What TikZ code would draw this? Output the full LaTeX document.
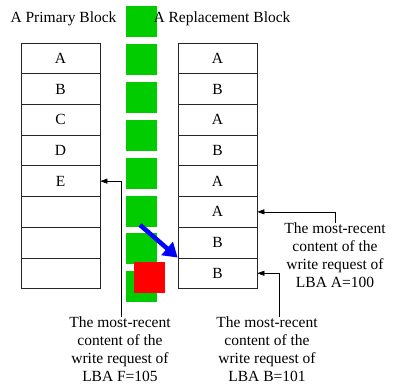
\documentclass[tikz,border=0pt]{standalone}
\usepackage{fontspec}
\setmainfont{Liberation Serif}
\newfontfamily\tnr{Liberation Serif}
\usetikzlibrary{arrows.meta}
\definecolor{grn}{RGB}{0,204,0}
\definecolor{blu}{RGB}{0,0,255}
\begin{document}
\begin{tikzpicture}[x=1pt,y=-1pt,
  txt/.style={font=\tnr\fontsize{15.5}{18}\selectfont},
  cell/.style={draw=black!85,line width=0.7pt,minimum width=79pt,minimum height=30.7pt,inner sep=0pt,txt},
  gsq/.style={fill=grn,draw=none},
  note/.style={txt,align=center,inner sep=0pt,anchor=north},
  conn/.style={draw=black,line width=0.6pt,-{Triangle[length=7pt,width=5pt]}}]
\useasboundingbox (0,0) rectangle (393,389);
\fill[white] (0,0) rectangle (393,389);
% green column
\foreach \y in {6,44,82,120,158,196,233,271} {\fill[gsq] (126,\y) rectangle (157,\y+31);}
\fill[red] (134,262) rectangle (165,293);
% titles
\node[txt,inner sep=0pt] (t1) at (63.5,19) {A Primary Block};
\node[txt,inner sep=0pt] (t2) at (222,19) {A Replacement Block};
% left block
\foreach \i/\l in {1/A,2/B,3/C,4/D,5/E,6/{},7/{},8/{}} {
  \node[cell] (L\i) at (60.5,{43+30.7*(\i-0.5)}) {\l};
}
% right block
\foreach \i/\l in {1/A,2/B,3/A,4/B,5/A,6/A,7/B,8/B} {
  \node[cell] (R\i) at (217.5,{43+30.7*(\i-0.5)}) {\l};
}
% notes
\node[note] (nF) at (120,317) {The most-recent\\content of the\\write request of\\LBA F=105};
\node[note] (nA) at (335,223) {The most-recent\\content of the\\write request of\\LBA A=100};
\node[note] (nB) at (267,317) {The most-recent\\content of the\\write request of\\LBA B=101};
\coordinate (cF) at (121,317);
\coordinate (cB) at (279,317);
\draw[conn] (cF) |- (L5.east);
\draw[conn] (nA.north) |- (R6.east);
\draw[conn] (cB) |- (R8.east);
% blue arrow
\coordinate (bs) at (140,225);
\draw[blu,line width=4.5pt,-{Triangle[length=14pt,width=17pt]}] (bs) -- (R8.north west);
\end{tikzpicture}
\end{document}
